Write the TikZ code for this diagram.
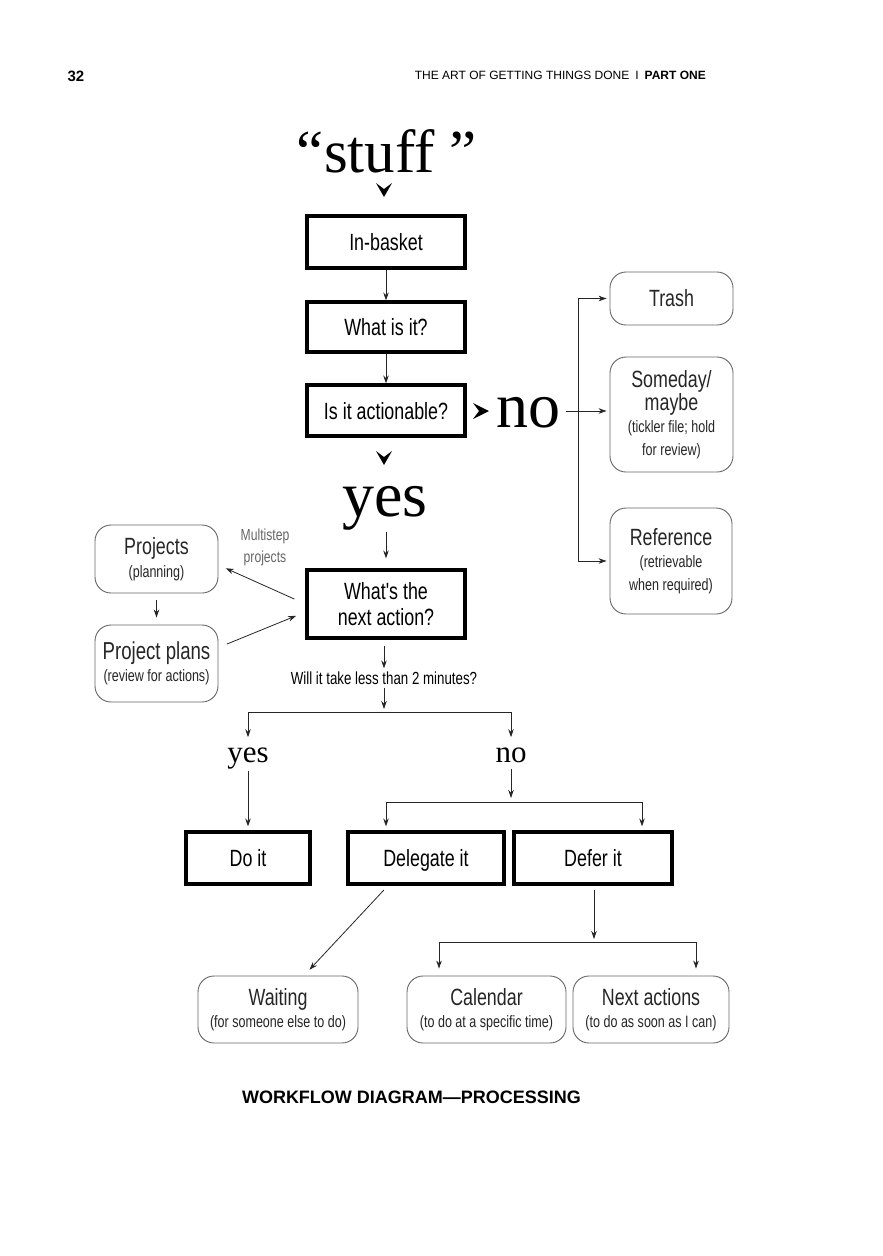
\documentclass[tikz,border=0pt]{standalone}
\usepackage{fontspec}
\newfontfamily\cond[FakeStretch=0.76]{Liberation Sans}
\newfontfamily\arial{Liberation Sans}
\newfontfamily\tms{Liberation Serif}
\usetikzlibrary{arrows.meta}
\newcommand{\bigtxt}{\fontsize{23.5}{24}\selectfont}
\newcommand{\smalltxt}{\fontsize{16.5}{22.5}\selectfont}
\begin{document}
\begin{tikzpicture}[x=1pt,y=-1pt,
  thickbox/.style={draw, line width=3.2pt, inner sep=0pt, align=center,
    font=\cond\fontsize{23.5}{26}\selectfont},
  one/.style={text height=17pt, text depth=0pt},
  softbox/.style={draw=black!60, line width=0.9pt, rounded corners=16pt,
    inner sep=0pt, align=center, text=black!85, font=\cond\smalltxt},
  arr/.style={-{Stealth[length=8pt,width=5.5pt]}, line width=0.8pt, draw=black!85},
  big/.style={font=\tms\fontsize{64}{64}\selectfont, inner sep=0pt, anchor=base},
  mid/.style={font=\tms\fontsize{31}{31}\selectfont, inner sep=0pt, anchor=base}]
\useasboundingbox[fill=white] (0,0) rectangle (883,1256);

% header
\node[font=\arial\bfseries\fontsize{15}{15}\selectfont, inner sep=0pt] (pg) at (76,76) {32};
\node[anchor=east, inner sep=0pt, font=\arial\fontsize{12}{12}\selectfont] (hdr) at (706,75)
  {THE ART OF GETTING THINGS DONE\hspace{6pt}I\hspace{6pt}\textbf{PART ONE}};

% stuff
\node[font=\tms\fontsize{61}{61}\selectfont, inner sep=0pt, anchor=base] (stuff) at (387,172) {“stuff ”};
\fill (376,183) -- (384,189) -- (392,183) -- (384,197) -- cycle;

% main column
\node[thickbox, one, minimum width=158pt, minimum height=52pt] (inb) at (386,242) {In-basket};
\node[thickbox, one, minimum width=158pt, minimum height=50pt] (what) at (386,327) {What is it?};
\node[thickbox, one, minimum width=158pt, minimum height=51pt] (act) at (386,410.5) {Is it actionable?};
\draw[arr] (inb) -- (what);
\draw[arr] (what) -- (act);

% no branch
\fill (473,403) -- (479,411) -- (473,419) -- (489,411) -- cycle;
\node[big] (no) at (528,427) {no};
\node[softbox, minimum width=123pt, minimum height=53pt] (trash) at (671.5,298.5) {\bigtxt Trash};
\node[softbox, minimum width=123pt, minimum height=115pt] (some) at (671.5,414.5)
  {{\bigtxt Someday/}\\{\bigtxt maybe}\\(tickler file; hold\\for review)};
\node[softbox, minimum width=122pt, minimum height=106pt] (ref) at (671,561)
  {{\bigtxt Reference}\\(retrievable\\when required)};
\coordinate (sp1) at (578,411);
\draw[arr, shorten <=6pt, shorten >=3pt] (no.east |- sp1) -- (some.west |- sp1);
\draw[arr, shorten >=3pt] (sp1) |- (trash.west);
\draw[arr, shorten >=3pt] (sp1) |- (ref.west);

% yes branch
\fill (376,451) -- (384,457) -- (392,451) -- (384,465) -- cycle;
\node[big] (yes) at (385,516) {yes};
\node[thickbox, minimum width=158pt, minimum height=68pt] (next) at (386,604)
  {What's the\\next action?};
\draw[arr, shorten <=2pt, shorten >=10pt] (yes.south -| next.north) -- (next.north);

% projects
\node[softbox, minimum width=123pt, minimum height=68pt] (proj) at (156.5,559)
  {{\bigtxt Projects}\\(planning)};
\node[softbox, minimum width=123pt, minimum height=77pt] (plans) at (156.5,663.5)
  {{\fontsize{24.5}{24}\selectfont Project plans}\\(review for actions)};
\node[align=center, text=black!60, font=\cond\fontsize{16}{22}\selectfont, inner sep=0pt] (multi) at (265,547)
  {Multistep\\projects};
\draw[arr, shorten <=7pt, shorten >=7pt] (proj) -- (plans);
\draw[arr, shorten <=12pt, shorten >=8pt] (next.west) -- ([yshift=-6pt]proj.east);
\draw[arr, shorten <=9pt, shorten >=10pt] ([yshift=16pt]plans.east) -- ([yshift=-8pt]next.west);

% two minutes
\node[font=\cond\fontsize{17.5}{17.5}\selectfont, inner sep=0pt] (q) at (384,678)
  {Will it take less than 2 minutes?};
\draw[arr, shorten <=6pt, shorten >=3pt] (next.south -| q.north) -- (q.north);
\coordinate (sp2) at (384,712);
\draw[arr, shorten <=3pt, shorten >=3pt] (q.south) -- (sp2);
\node[mid] (yes2) at (248,762) {yes};
\node[mid] (no2) at (511,762) {no};
\draw[arr, shorten >=10pt] (sp2) -| (yes2.north);
\draw[arr, shorten >=10pt] (sp2) -| (no2.north);

\node[thickbox, one, minimum width=124pt, minimum height=52pt] (do) at (248,858) {Do it};
\node[thickbox, one, minimum width=156pt, minimum height=52pt] (dele) at (426,858) {Delegate it};
\node[thickbox, one, minimum width=158pt, minimum height=52pt] (defer) at (593,858) {Defer it};
\draw[arr, shorten <=2pt, shorten >=4pt] (yes2.south) -- (do.north);
\coordinate (sp3) at (511,802);
\draw[arr, shorten <=6pt, shorten >=4pt] (no2.south) -- (sp3);
\draw[arr, shorten >=4pt] (sp3) -| ([xshift=-40pt]dele.north);
\draw[arr, shorten >=4pt] (sp3) -| ([xshift=49pt]defer.north);

% bottom
\node[softbox, minimum width=160pt, minimum height=67pt] (wait) at (278,1009.5)
  {{\bigtxt Waiting}\\(for someone else to do)};
\node[softbox, minimum width=159pt, minimum height=67pt] (cal) at (486.5,1009.5)
  {{\bigtxt Calendar}\\(to do at a specific time)};
\node[softbox, minimum width=156pt, minimum height=67pt] (na) at (651,1009.5)
  {{\bigtxt Next actions}\\(to do as soon as I can)};
\draw[arr, shorten <=6pt, shorten >=8pt] ([xshift=-38pt]dele.south) -- ([xshift=26pt]wait.north);
\coordinate (sp4) at (594,942);
\draw[arr, shorten <=4pt, shorten >=3pt] (defer.south -| sp4) -- (sp4);
\draw[arr, shorten >=7pt] (sp4) -| ([xshift=-47.5pt]cal.north);
\draw[arr, shorten >=7pt] (sp4) -| ([xshift=45pt]na.north);

% caption
\node[font=\arial\bfseries\fontsize{18}{18}\selectfont, inner sep=0pt] (cap) at (411.5,1097)
  {WORKFLOW DIAGRAM—PROCESSING};
\end{tikzpicture}
\end{document}
